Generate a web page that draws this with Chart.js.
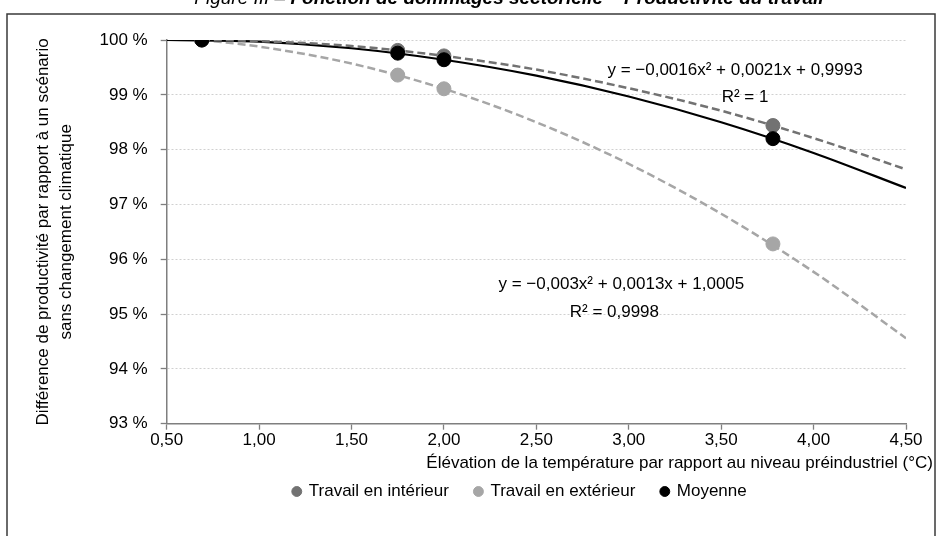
<!DOCTYPE html>
<html><head><meta charset="utf-8">
<script src="https://cdn.jsdelivr.net/npm/chart.js@4.4.0/dist/chart.umd.min.js"></script>
<style>html,body{margin:0;padding:0;background:#fff;overflow:hidden;} #wrap{width:939px;height:536px;position:relative;}</style>
</head><body><div id="wrap"><canvas id="c" width="939" height="536"></canvas></div>
<script>
const FONT = "'Liberation Sans Narrow', 'Arial Narrow', 'Liberation Sans', Arial, sans-serif";

// ---- data ----
const seriesNames = ['Travail en intérieur', 'Travail en extérieur', 'Moyenne'];
const temperatures = [0.69, 1.75, 2.00, 3.78];
const interieur = [1.0000, 0.9981, 0.9971, 0.9844];
const exterieur = [1.0000, 0.9936, 0.9911, 0.9628];
const moyenne   = [1.0000, 0.9976, 0.9964, 0.9820];

// trend curves
const trendXDashed = [0.69, 1.00, 1.50, 2.00, 2.50, 3.00, 3.50, 4.00, 4.50];
const trendInterieur = [1.0000, 0.9998, 0.9989, 0.9971, 0.9946, 0.9912, 0.9871, 0.9821, 0.9764];
const trendExterieur = [1.0000, 0.9988, 0.9957, 0.9911, 0.9850, 0.9774, 0.9683, 0.9577, 0.9456];
const trendXMoyenne = [0.50, 1.00, 1.50, 2.00, 2.50, 3.00, 3.50, 4.00, 4.50];
const trendMoyenne  = [1.0000, 0.9997, 0.9985, 0.9964, 0.9935, 0.9897, 0.9850, 0.9794, 0.9730];

const xTicks = [0.5, 1.0, 1.5, 2.0, 2.5, 3.0, 3.5, 4.0, 4.5];
const yTicks = [0.93, 0.94, 0.95, 0.96, 0.97, 0.98, 0.99, 1.00];

const titleLead = 'Figure III – ';
const titleMain = 'Fonction de dommages sectorielle – Productivité du travail';
const xTitle = 'Élévation de la température par rapport au niveau préindustriel (°C)';
const yTitle = ['Différence de productivité par rapport à un scénario', 'sans changement climatique'];
const eqInterieur = ['y = −0,0016x² + 0,0021x + 0,9993', 'R² = 1'];
const eqExterieur = ['y = −0,003x² + 0,0013x + 1,0005', 'R² = 0,9998'];

const zip = (xs, ys) => xs.map((x, i) => ({x, y: ys[i]}));

const colInt = '#727272', colExt = '#a6a6a6', colMoy = '#000000';

const decor = {
  id: 'decor',
  afterLayout(chart) {
    // place the legend where the reference has it
    const lg = chart.legend;
    if (lg) {
      const dx = 520 - (lg.left + lg.right) / 2; lg.left += dx; lg.right += dx;
      lg.top -= 7; lg.bottom -= 7;
    }
  },
  beforeDraw(chart) {
    const ctx = chart.ctx;
    ctx.save();
    ctx.fillStyle = '#fff';
    ctx.fillRect(0, 0, chart.width, chart.height);
    ctx.strokeStyle = '#3a3a3a';
    ctx.lineWidth = 1.5;
    ctx.strokeRect(7, 14, 928, 540);
    // title (cut by the top edge)
    ctx.fillStyle = '#000';
    ctx.textBaseline = 'alphabetic';
    ctx.font = 'italic 19px ' + FONT;
    const w1 = ctx.measureText(titleLead).width;
    ctx.font = 'italic bold 19px ' + FONT;
    const w2 = ctx.measureText(titleMain).width;
    let x0 = 509 - (w1 + w2) / 2;
    ctx.textAlign = 'left';
    ctx.font = 'italic 19px ' + FONT;
    ctx.fillText(titleLead, x0, 4);
    ctx.font = 'italic bold 19px ' + FONT;
    ctx.fillText(titleMain, x0 + w1, 4);
    ctx.restore();
  },
  afterDraw(chart) {
    const ctx = chart.ctx;
    const xs = chart.scales.x, ys = chart.scales.y;
    ctx.save();
    ctx.fillStyle = '#000';
    ctx.font = '17px ' + FONT;
    ctx.textAlign = 'center';
    ctx.textBaseline = 'middle';
    const put = (lines, xv, yv, dy) => {
      const px = xs.getPixelForValue(xv), py = ys.getPixelForValue(yv);
      lines.forEach((t, i) => ctx.fillText(t, px + (i ? dy[0] : 0), py + i * dy[1]));
    };
    put(eqInterieur, 3.575, 0.99451, [10, 27]);
    put(eqExterieur, 2.96, 0.9555, [-7, 28]);
    // x title
    ctx.textAlign = 'right';
    ctx.fillText(xTitle, 933, 463);
    // y title
    ctx.translate(0, (chart.chartArea.top + chart.chartArea.bottom) / 2);
    ctx.rotate(-Math.PI / 2);
    ctx.textAlign = 'center';
    ctx.fillText(yTitle[0], 0, 43);
    ctx.fillText(yTitle[1], 0, 66);
    ctx.restore();
  }
};

new Chart(document.getElementById('c'), {
  type: 'scatter',
  data: {
    datasets: [
      {label: seriesNames[0], data: zip(temperatures, interieur), order: 1,
       backgroundColor: colInt, borderColor: colInt, pointRadius: 7, pointHoverRadius: 7, showLine: false},
      {label: seriesNames[1], data: zip(temperatures, exterieur), order: 2,
       backgroundColor: colExt, borderColor: colExt, pointRadius: 7, pointHoverRadius: 7, showLine: false},
      {label: seriesNames[2], data: zip(temperatures, moyenne), order: 0,
       backgroundColor: colMoy, borderColor: colMoy, pointRadius: 7, pointHoverRadius: 7, showLine: false},
      {label: 'trend-int', data: zip(trendXDashed, trendInterieur), order: 3, showLine: true,
       borderColor: colInt, borderWidth: 2.5, borderDash: [8, 4], pointRadius: 0, cubicInterpolationMode: 'monotone'},
      {label: 'trend-ext', data: zip(trendXDashed, trendExterieur), order: 4, showLine: true,
       borderColor: colExt, borderWidth: 2.5, borderDash: [8, 4], pointRadius: 0, cubicInterpolationMode: 'monotone'},
      {label: 'trend-moy', data: zip(trendXMoyenne, trendMoyenne), order: 3, showLine: true,
       borderColor: colMoy, borderWidth: 2.2, pointRadius: 0, cubicInterpolationMode: 'monotone'}
    ]
  },
  options: {
    responsive: false,
    animation: false,
    devicePixelRatio: 1,
    layout: {padding: {left: 0, right: 33, top: 40, bottom: 19}},
    plugins: {
      title: {display: false},
      tooltip: {enabled: false},
      legend: {
        position: 'bottom',
        labels: {
          filter: (item) => item.datasetIndex < 3,
          sort: (a, b) => a.datasetIndex - b.datasetIndex,
          usePointStyle: true, pointStyle: 'circle', boxWidth: 7, boxHeight: 7,
          color: '#000', font: {family: FONT, size: 17}, padding: 26
        }
      }
    },
    scales: {
      x: {
        type: 'linear', min: 0.5, max: 4.5,
        afterBuildTicks: (s) => { s.ticks = xTicks.map(v => ({value: v})); },
        afterFit: (s) => { s.height = 40.3; },
        ticks: {color: '#000', font: {family: FONT, size: 17}, padding: 0,
                callback: (v) => v.toFixed(2).replace('.', ',')},
        grid: {drawOnChartArea: false, drawTicks: true, tickLength: 6, tickColor: '#7f7f7f', tickWidth: 1.3},
        border: {display: true, color: '#7f7f7f', width: 1.5}
      },
      y: {
        type: 'linear', min: 0.93, max: 1.0,
        afterBuildTicks: (s) => { s.ticks = yTicks.map(v => ({value: v})); },
        afterFit: (s) => { s.width = 166.7; },
        ticks: {color: '#000', font: {family: FONT, size: 17}, padding: 13,
                callback: (v) => Math.round(v * 100) + ' %'},
        grid: {drawOnChartArea: true, color: '#d0d0d0', lineWidth: 1, drawTicks: true, tickLength: 6,
               tickColor: '#7f7f7f', tickWidth: 1.3, tickBorderDash: []},
        border: {display: true, color: '#7f7f7f', width: 1.5, dash: [2, 2]}
      }
    }
  },
  plugins: [decor]
});
</script>
</body></html>
